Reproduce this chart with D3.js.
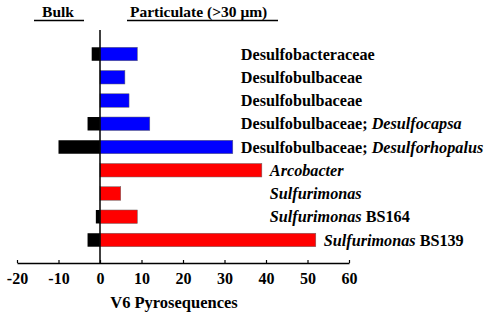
<!DOCTYPE html>
<html>
<head>
<meta charset="utf-8">
<script src="https://cdn.jsdelivr.net/npm/d3@7"></script>
<style>
  body { margin: 0; background: #fff; }
  text { font-family: "Liberation Serif", "Times New Roman", serif; font-weight: bold; }
</style>
</head>
<body>
<script>
// data
var labelParts = [
  [["Desulfobacteraceae", false]],
  [["Desulfobulbaceae", false]],
  [["Desulfobulbaceae", false]],
  [["Desulfobulbaceae; ", false], ["Desulfocapsa", true]],
  [["Desulfobulbaceae; ", false], ["Desulforhopalus", true]],
  [["Arcobacter", true]],
  [["Sulfurimonas", true]],
  [["Sulfurimonas", true], [" BS164", false]],
  [["Sulfurimonas", true], [" BS139", false]]
];
var bulkValues = [-2, 0, 0, -3, -10, 0, 0, -1, -3];
var particulateValues = [9, 6, 7, 12, 32, 39, 5, 9, 52];
var particulateColors = ["blue", "blue", "blue", "blue", "blue", "red", "red", "red", "red"];
var labelBlock = [0, 0, 0, 0, 0, 1, 1, 1, 2];
var xTicks = [-20, -10, 0, 10, 20, 30, 40, 50, 60];

var width = 490;
var height = 318;

var svg = d3.select("body").append("svg")
    .attr("width", width)
    .attr("height", height);

// scales
var xScale = d3.scaleLinear()
    .domain([-20, 60])
    .range([17, 349]);

var rows = d3.range(labelParts.length);
var yScale = d3.scaleBand()
    .domain(rows)
    .range([42.4, 251.6])
    .paddingInner(0.42)
    .paddingOuter(0.21);

var axisY = 263;

// bulk bars (negative side), zero rows skipped
svg.selectAll("rect.bulk")
    .data(rows.filter(i => bulkValues[i] !== 0))
    .enter()
    .append("rect")
    .attr("class", "bulk")
    .attr("x", i => xScale(bulkValues[i]))
    .attr("y", i => yScale(i))
    .attr("width", i => xScale(0) - xScale(bulkValues[i]))
    .attr("height", yScale.bandwidth())
    .attr("fill", "black");

// particulate bars
svg.selectAll("rect.part")
    .data(particulateValues)
    .enter()
    .append("rect")
    .attr("class", "part")
    .attr("x", xScale(0))
    .attr("y", (d, i) => yScale(i))
    .attr("width", d => xScale(d) - xScale(0))
    .attr("height", yScale.bandwidth())
    .attr("fill", (d, i) => particulateColors[i] === "blue" ? "#0000ff" : "#ff0000")
    .attr("stroke", "#666")
    .attr("stroke-width", 0.5);

// zero line
svg.append("line")
    .attr("x1", xScale(0)).attr("x2", xScale(0))
    .attr("y1", 30).attr("y2", axisY)
    .attr("stroke", "black")
    .attr("stroke-width", 1.5);

// x axis
var xAxis = d3.axisBottom(xScale)
    .tickValues(xTicks)
    .tickFormat(d => String(d))
    .tickSizeInner(-3)
    .tickSizeOuter(0)
    .tickPadding(10);

var axisG = svg.append("g")
    .attr("transform", `translate(0, ${axisY})`)
    .call(xAxis);
axisG.select(".domain").attr("stroke-width", 1.5);
axisG.selectAll(".tick line").attr("stroke-width", 1.2);
axisG.selectAll(".tick text")
    .attr("font-size", 16)
    .attr("font-family", "Liberation Serif, Times New Roman, serif")
    .attr("font-weight", "bold")
    .attr("fill", "black");

svg.append("text")
    .attr("x", 174)
    .attr("y", 308)
    .attr("text-anchor", "middle")
    .attr("font-size", 16.5)
    .text("V6 Pyrosequences");

// row labels, placed past the longest bar of their block
var blockMax = {};
rows.forEach(function(i) {
  var b = labelBlock[i];
  blockMax[b] = Math.max(blockMax[b] || 0, particulateValues[i]);
});

rows.forEach(function(i) {
  var t = svg.append("text")
      .attr("x", xScale(blockMax[labelBlock[i]]) + 8)
      .attr("y", yScale(i) + yScale.bandwidth() / 2)
      .attr("dy", "0.35em")
      .attr("font-size", 16.2);
  labelParts[i].forEach(function(p) {
    t.append("tspan")
        .attr("font-style", p[1] ? "italic" : "normal")
        .text(p[0]);
  });
});

// headers
svg.append("text")
    .attr("x", 58).attr("y", 17)
    .attr("text-anchor", "middle")
    .attr("font-size", 15.5)
    .text("Bulk");
svg.append("line")
    .attr("x1", 34).attr("x2", 84)
    .attr("y1", 20.5).attr("y2", 20.5)
    .attr("stroke", "black").attr("stroke-width", 1.5);

svg.append("text")
    .attr("x", 130).attr("y", 17)
    .attr("font-size", 15.5)
    .text("Particulate (>30 \u03bcm)");
svg.append("line")
    .attr("x1", 127).attr("x2", 278)
    .attr("y1", 20.5).attr("y2", 20.5)
    .attr("stroke", "black").attr("stroke-width", 1.5);
</script>
</body>
</html>
